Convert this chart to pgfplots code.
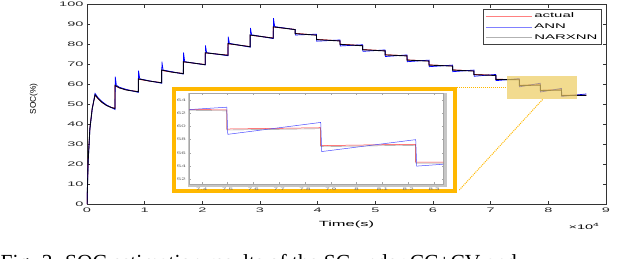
\documentclass[border=0pt]{standalone}
\usepackage{pgfplots}
\pgfplotsset{compat=1.18}
\usepackage{pgfplotstable}
\usepackage{fontspec}
\setmainfont{Liberation Sans}
\newfontfamily\widefont[FakeStretch=2.2]{Liberation Sans}
\newfontfamily\capfont{Liberation Serif}
\newcommand\tickfont{\widefont\fontsize{6.6}{7}\selectfont}
\newcommand\legfont{\widefont\fontsize{6.8}{7.5}\selectfont}
\newcommand\labfont{\widefont\fontsize{7.5}{8}\selectfont}
\newcommand\ylabfont{\fontsize{8.3}{9}\selectfont}
\newcommand\insetfont{\widefont\fontsize{3.6}{4}\selectfont}
\definecolor{boxorange}{RGB}{255,184,0}
\definecolor{hilite}{RGB}{236,204,96}

\pgfplotstableread{
t soc
0 0
200 22
500 38
900 48
1400 54.6
1900 52.9
2600 51.0
3400 49.5
4200 48.5
4860 48.0
4860 59.3
5600 58.3
6800 57.3
8900 56.4
8900 62.6
10800 61.7
12950 60.9
12950 67.0
14700 66.2
16700 65.5
16700 71.3
20500 70.0
20500 75.8
24450 74.7
24450 80.4
28300 79.0
28300 84.7
32300 83.3
32300 88.8
36100 87.6
36100 85.6
39800 84.8
39800 82.6
43870 81.9
43870 80.2
47800 79.5
47800 77.5
51700 76.9
51700 74.9
55500 74.4
55500 72.3
59300 71.8
59300 69.8
63400 69.3
63400 67.3
67100 66.8
67100 65.0
70900 64.6
70900 62.6
74970 62.5
74970 59.6
78610 59.8
78610 57.1
82290 57.3
82290 54.6
86600 54.6
}\actual

\pgfplotstableread{
t soc
0 0
200 21
500 37.5
900 47.5
1400 55.5
1900 53.4
2600 51.4
3400 49.7
4200 48.5
4860 47.4
4900 63.9
5100 59.6
5600 58.6
6800 57.5
8900 56.0
8940 66.9
9150 62.8
10800 61.8
12950 60.6
12990 71.4
13200 67.2
14700 66.4
16700 65.2
16740 76.0
16950 71.4
20500 69.8
20540 79.6
20750 75.9
24450 74.4
24490 84.0
24700 80.6
28300 78.7
28340 88.3
28550 84.9
32300 83.0
32340 93.2
32550 89.0
36100 87.5
36140 84.8
39800 85.2
39840 81.7
43870 82.3
43910 79.3
47800 79.9
47840 76.6
51700 77.3
51740 74.0
55500 74.8
55540 71.4
59300 72.2
59340 68.9
63400 69.7
63440 66.4
67100 67.2
67140 64.1
70900 65.0
70940 61.9
74970 62.9
75010 58.8
78610 60.6
78650 56.2
82290 58.0
82330 54.0
86600 55.2
}\ann

\pgfplotstableread{
t soc
0 0
200 21.5
500 37.8
900 47.8
1400 54.8
1900 53.0
2600 51.0
3400 49.4
4200 48.4
4860 47.9
4860 59.5
5600 58.3
6800 57.2
8900 56.3
8900 62.8
10800 61.7
12950 60.8
12950 67.2
14700 66.2
16700 65.4
16700 71.4
20500 69.9
20500 75.9
24450 74.6
24450 80.5
28300 78.9
28300 84.8
32300 83.2
32300 88.9
36100 87.5
36100 85.5
39800 84.7
39800 82.5
43870 81.8
43870 80.1
47800 79.4
47800 77.4
51700 76.8
51700 74.8
55500 74.3
55500 72.2
59300 71.7
59300 69.7
63400 69.2
63400 67.2
67100 66.7
67100 64.9
70900 64.5
70900 62.5
74970 62.35
74970 59.45
78610 59.65
78610 56.95
82290 57.15
82290 54.45
86600 54.5
}\narx

\begin{document}
\begin{tikzpicture}
\useasboundingbox (0pt,0pt) rectangle (640pt,258pt);
\clip (0pt,0pt) rectangle (640pt,258pt);
\begin{axis}[
  at={(87pt,54pt)}, anchor=south west, scale only axis,
  width=519pt, height=199.3pt,
  xmin=0, xmax=90000, ymin=0, ymax=100,
  xtick={0,10000,20000,30000,40000,50000,60000,70000,80000,90000},
  xticklabels={0,1,2,3,4,5,6,7,8,9},
  scaled x ticks=false, scaled y ticks=false,
  ytick={0,10,...,100},
  tick align=inside, major tick length=3pt,
  axis line style={black!80, line width=0.5pt},
  every tick/.style={black!80, line width=0.5pt},
  /pgf/number format/assume math mode=true,
  tick label style={font=\tickfont, text=black!85},
  xlabel={Time(s)}, ylabel={SOC(\%)},
  every axis x label/.style={at={(rel axis cs:0.5,0)}, yshift=-21pt, anchor=center, font=\labfont},
  every axis y label/.style={at={(rel axis cs:0,0.527)}, xshift=-53.3pt, rotate=90, anchor=center, font=\ylabfont},
  legend style={at={(rel axis cs:1,1)}, anchor=north east, xshift=-4.3pt, yshift=-4.6pt,
    draw=black!75, line width=0.5pt, font=\legfont, inner xsep=2pt, inner ysep=1.5pt,
    row sep=0.5pt},
  legend cell align=left,
  legend image code/.code={\draw[#1, line width=0.7pt] (0pt,0pt) -- (46pt,0pt);},
]
\addlegendimage{red!50}
\addlegendentry{actual}
\addlegendimage{blue!50}
\addlegendentry{ANN}
\addlegendimage{gray!60}
\addlegendentry{NARXNN}
\addplot[red, line width=0.6pt, forget plot] table[x=t, y=soc] {\actual};
\addplot[blue, line width=0.7pt, forget plot] table[x=t, y=soc] {\ann};
\addplot[black!90!blue, line width=0.9pt, forget plot] table[x=t, y=soc] {\narx};
\end{axis}
\node[font=\tickfont, anchor=center] at (584pt,32pt) {×10\textsuperscript{4}};
\fill[hilite, opacity=0.7] (506.7pt,159pt) rectangle (576.7pt,182pt);
\draw[boxorange, densely dotted, line width=1pt] (456.7pt,170.5pt) -- (506.7pt,170.5pt);
\draw[boxorange, densely dotted, line width=1pt] (459.3pt,68pt) -- (543pt,159pt);
\fill[white] (171.7pt,64.7pt) rectangle (456.7pt,171.3pt);
\fill[gray!45] (188pt,71pt) rectangle (447pt,165.5pt);
\draw[boxorange, line width=4pt] (173.7pt,66.7pt) rectangle (454.7pt,169.3pt);
\begin{axis}[
  at={(189.3pt,74pt)}, anchor=south west, scale only axis,
  width=254pt, height=90.7pt,
  xmin=7.352, xmax=8.336, ymin=51.3, ymax=65,
  xtick={7.4,7.5,7.6,7.7,7.8,7.9,8,8.1,8.2,8.3},
  xticklabels={7.4,7.5,7.6,7.7,7.8,7.9,8,8.1,8.2,8.3},
  ytick={52,54,56,58,60,62,64},
  yticklabels={52,54,56,58,60,62,64},
  tick align=inside, major tick length=1.5pt,
  axis line style={gray!70, line width=0.4pt},
  every tick/.style={gray!70, line width=0.4pt},
  axis background/.style={fill=white},
  tick label style={font=\insetfont, text=gray!80!black},
]
\addplot[red!80, line width=0.5pt] table[x expr=\thisrow{t}/10000, y=soc] {\actual};
\addplot[blue!70, line width=0.5pt] table[x expr=\thisrow{t}/10000, y=soc] {\ann};
\addplot[gray!60!black, line width=0.4pt, opacity=0.6] table[x expr=\thisrow{t}/10000, y=soc] {\narx};
\end{axis}
\node[anchor=base west, inner sep=0pt, font=\capfont\fontsize{21.5}{24}\selectfont] at (0.5pt,-11.5pt) {Fig. 3. SOC estimation results of the SC under CC+CV and};
\end{tikzpicture}
\end{document}
